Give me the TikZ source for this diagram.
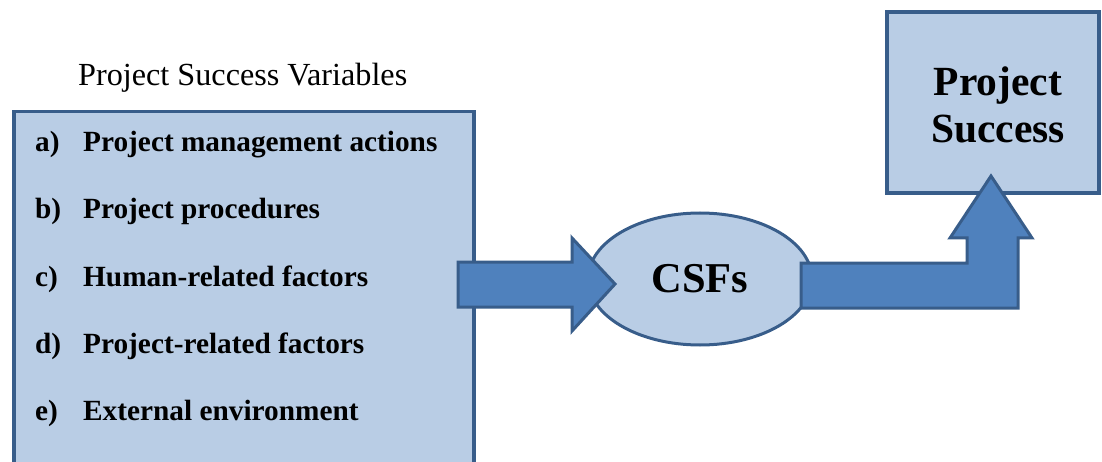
\documentclass[tikz,border=0pt]{standalone}
\usepackage{fontspec}
\setmainfont{Liberation Serif}
\usetikzlibrary{shapes.geometric}
\definecolor{boxfill}{HTML}{B9CDE5}
\definecolor{boxline}{HTML}{385D8A}
\definecolor{arrowfill}{HTML}{4F81BD}
\tikzset{
  panel/.style={draw=boxline, fill=boxfill, line width=3.5pt, inner sep=0pt},
  item/.style={anchor=base west, inner sep=0pt, font=\fontsize{29.3}{34}\selectfont\bfseries},
  fatarrow/.style={draw=boxline, fill=arrowfill, line width=3pt, line join=miter},
}
\begin{document}
\begin{tikzpicture}[x=1pt,y=-1pt]
      \clip (0,0) rectangle (1102,462);
      \node[anchor=base west, inner sep=0pt, font=\fontsize{32.2}{37}\selectfont] (title) at (78,86) {Project Success Variables};
      \node[panel, anchor=north west, minimum width=460pt, minimum height=400pt] (vars) at (12,110) {};
      \foreach \l/\t [count=\i] in {a/Project management actions, b/Project procedures,
          c/Human-related factors, d/Project-related factors, e/External environment} {
        \node[item] (lab\i) at (35,85+67*\i) {\l)};
        \node[item] (txt\i) at (83,85+67*\i) {\t};
      }
      \node[panel, ellipse, line width=3pt, minimum width=224pt, minimum height=132pt,
        font=\fontsize{42.5}{48}\selectfont\bfseries] (csf) at (700,279) {CSFs};
      \node[panel, minimum width=212pt, minimum height=181pt] (success) at (993,102.5) {};
      \node[align=center, inner sep=0pt, font=\fontsize{41.5}{47}\selectfont\bfseries]
        (successtxt) at (998,105) {Project\\Success};
      \draw[fatarrow] (458,262) -- (572,262) -- (572,238) -- (615,284) -- (572,331)
        -- (572,307) -- (458,307) -- cycle;
      \draw[fatarrow] (801,263) -- (967,263) -- (967,238) -- (950,238) -- (991,176)
        -- (1032,238) -- (1018,238) -- (1018,308) -- (801,308) -- cycle;
    \end{tikzpicture}
\end{document}
